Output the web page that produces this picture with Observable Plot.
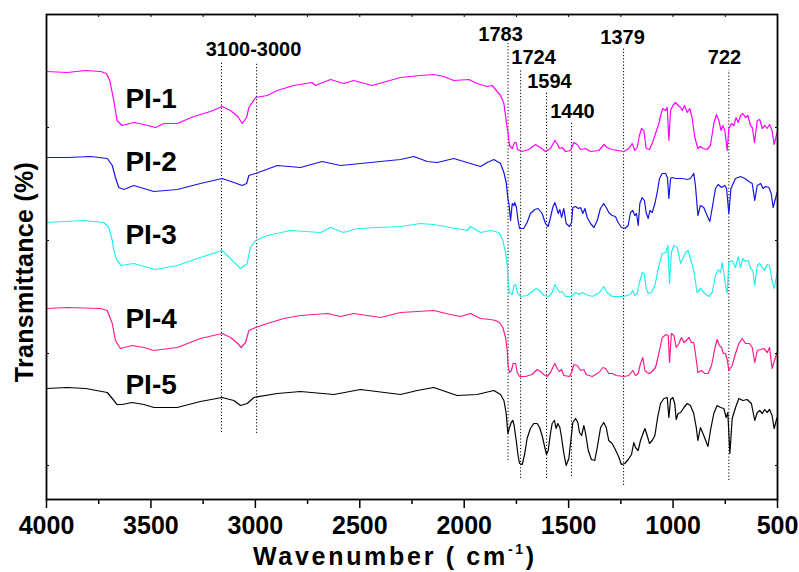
<!DOCTYPE html>
<html><head><meta charset="utf-8">
<script src="https://cdn.jsdelivr.net/npm/d3@7"></script>
<script src="https://cdn.jsdelivr.net/npm/@observablehq/plot@0.6"></script>
<style>html,body{margin:0;padding:0;background:#fff;}</style>
</head><body><div id="chart"></div>
<script>
// Transmittance in arbitrary units (offset traces), wavenumber in cm^-1
const seriesNames = ["PI-1","PI-2","PI-3","PI-4","PI-5"];
const seriesColors = ["#ff00ff","#1414e6","#22eeee","#ff1a8c","#000000"];

const pi1 = [[4000,427],[3901,426],[3813,428],[3741,427],[3713,425],[3697,418],[3678,398],[3662,378],[3638,373],[3582,376],[3534,374],[3478,371],[3438,375],[3374,375],[3295,382],[3215,387],[3159,392],[3119,388],[3084,382],[3063,375],[3042,381],[3031,391],[2999,401],[2943,403],[2895,408],[2816,413],[2728,416],[2712,413],[2640,419],[2577,415],[2529,418],[2441,413],[2305,421],[2209,423],[2146,424],[2098,422],[2050,418],[1978,419],[1938,415],[1890,412],[1866,413],[1850,409],[1826,403],[1810,395],[1798,376],[1790,365],[1783,353],[1770,350],[1759,356],[1751,356],[1745,349],[1723,347],[1691,349],[1659,354],[1635,351],[1611,347],[1587,350],[1566,358],[1555,355],[1544,350],[1531,351],[1515,347],[1491,348],[1475,356],[1459,354],[1443,349],[1419,350],[1395,347],[1355,348],[1331,354],[1316,351],[1292,349],[1236,347],[1212,350],[1196,355],[1183,348],[1172,351],[1161,363],[1151,370],[1140,368],[1129,350],[1113,349],[1100,355],[1068,375],[1057,385],[1049,390],[1036,388],[1028,391],[1020,358],[1012,388],[1001,393],[988,396],[976,393],[964,391],[956,388],[945,393],[932,386],[920,390],[909,381],[896,361],[881,350],[869,352],[856,350],[837,349],[821,353],[805,375],[792,384],[781,378],[770,368],[762,373],[752,368],[741,348],[733,370],[720,375],[709,373],[698,381],[688,376],[677,383],[666,385],[653,381],[642,383],[629,373],[621,371],[610,356],[597,378],[585,379],[573,370],[561,373],[550,370],[538,374],[526,368],[516,354],[502,366]];

const pi2 = [[4000,341],[3901,341],[3789,342],[3709,340],[3685,333],[3670,321],[3654,311],[3630,309],[3582,313],[3486,307],[3374,309],[3263,315],[3159,320],[3103,316],[3063,313],[3042,315],[3031,323],[2999,325],[2895,333],[2784,331],[2680,337],[2592,333],[2449,336],[2305,339],[2241,342],[2177,337],[2129,336],[2050,340],[1970,335],[1922,332],[1890,336],[1858,339],[1850,338],[1826,335],[1810,326],[1799,316],[1791,300],[1786,295],[1778,278],[1770,295],[1762,293],[1758,296],[1750,291],[1742,278],[1735,270],[1715,270],[1699,276],[1683,285],[1662,289],[1646,290],[1627,285],[1611,275],[1598,272],[1587,281],[1576,291],[1566,296],[1558,291],[1550,285],[1542,289],[1534,281],[1523,290],[1512,275],[1496,272],[1486,276],[1480,291],[1467,292],[1454,290],[1443,291],[1432,285],[1422,290],[1411,281],[1395,275],[1379,271],[1363,278],[1348,290],[1332,295],[1320,291],[1308,286],[1292,283],[1276,282],[1263,276],[1247,271],[1231,270],[1215,273],[1204,286],[1193,288],[1183,283],[1175,285],[1167,273],[1159,295],[1148,301],[1137,298],[1129,286],[1119,280],[1111,288],[1100,286],[1087,295],[1076,306],[1065,320],[1052,325],[1036,325],[1027,321],[1020,300],[1012,320],[1004,321],[988,320],[956,320],[932,319],[917,320],[901,325],[893,313],[881,283],[869,293],[853,291],[837,283],[824,277],[813,290],[797,310],[784,314],[768,311],[752,313],[744,310],[733,285],[723,310],[701,320],[677,322],[656,320],[637,317],[621,315],[609,298],[597,313],[581,315],[569,310],[557,312],[541,311],[530,305],[521,291],[502,306]];

const pi3 = [[4000,276],[3821,278],[3726,276],[3702,271],[3685,258],[3678,248],[3662,238],[3642,233],[3582,235],[3483,229],[3374,233],[3263,241],[3159,248],[3071,230],[3039,235],[3027,248],[3023,251],[2999,258],[2943,263],[2832,268],[2688,266],[2640,271],[2577,266],[2512,270],[2305,272],[2209,275],[2146,274],[2066,271],[1986,268],[1970,272],[1922,266],[1874,268],[1850,267],[1831,265],[1815,258],[1802,246],[1794,233],[1790,216],[1783,206],[1770,204],[1762,213],[1754,214],[1746,206],[1730,202],[1699,203],[1675,207],[1655,210],[1639,208],[1619,203],[1595,202],[1579,206],[1566,214],[1555,210],[1542,206],[1531,207],[1515,202],[1486,202],[1467,206],[1451,204],[1435,206],[1416,204],[1387,202],[1352,206],[1332,212],[1316,206],[1292,202],[1236,202],[1204,204],[1193,208],[1183,203],[1172,205],[1161,216],[1148,226],[1138,225],[1129,211],[1119,205],[1103,206],[1087,213],[1068,233],[1052,245],[1033,246],[1025,253],[1017,215],[1008,246],[996,253],[980,251],[964,235],[953,240],[940,246],[928,248],[917,240],[901,228],[885,206],[869,210],[853,206],[829,202],[813,206],[797,223],[784,229],[773,226],[765,236],[755,223],[749,213],[741,205],[733,236],[717,238],[701,231],[688,242],[677,231],[666,240],[653,237],[640,238],[629,230],[618,228],[609,213],[597,233],[586,235],[573,231],[561,228],[550,234],[538,233],[526,218],[516,210],[502,225]];

const pi4 = [[4000,190],[3901,191],[3741,190],[3709,188],[3685,175],[3670,158],[3646,150],[3590,153],[3534,151],[3486,148],[3374,151],[3263,160],[3159,165],[3119,161],[3084,155],[3068,151],[3047,156],[3031,168],[2999,171],[2943,175],[2864,180],[2784,183],[2656,185],[2592,182],[2529,185],[2401,181],[2305,186],[2225,187],[2146,188],[2066,184],[2018,182],[1970,185],[1922,180],[1874,179],[1850,178],[1831,176],[1815,171],[1802,161],[1794,148],[1790,133],[1783,126],[1774,128],[1766,135],[1754,135],[1746,126],[1735,122],[1707,122],[1675,124],[1651,129],[1635,127],[1619,124],[1603,122],[1587,126],[1576,131],[1566,135],[1555,130],[1544,127],[1534,129],[1523,123],[1496,122],[1486,126],[1475,134],[1459,133],[1443,128],[1427,129],[1416,124],[1387,122],[1355,126],[1336,131],[1323,130],[1308,125],[1292,125],[1272,123],[1236,122],[1212,123],[1193,128],[1180,123],[1167,125],[1156,135],[1145,141],[1135,128],[1124,126],[1113,125],[1100,127],[1084,131],[1068,145],[1052,161],[1033,164],[1023,163],[1017,136],[1008,165],[996,163],[985,151],[972,155],[960,161],[948,156],[937,158],[924,161],[912,156],[901,156],[893,145],[881,126],[864,128],[848,125],[832,125],[816,133],[800,150],[789,159],[778,153],[768,151],[759,145],[749,145],[741,139],[733,128],[717,133],[701,145],[685,155],[669,160],[653,155],[634,155],[621,151],[609,136],[597,148],[581,149],[565,150],[549,146],[538,151],[526,130],[513,139],[502,146]];

const pi5 = [[4000,110],[3901,111],[3812,110],[3709,106],[3685,100],[3662,94],[3638,94],[3590,96],[3534,94],[3486,91],[3374,91],[3263,97],[3159,101],[3103,98],[3071,93],[3039,95],[3007,101],[2895,105],[2784,107],[2624,104],[2497,109],[2305,104],[2225,108],[2146,111],[2034,103],[1938,104],[1858,108],[1850,107],[1826,104],[1810,98],[1799,85],[1791,65],[1783,71],[1775,76],[1767,78],[1761,73],[1751,58],[1742,43],[1735,35],[1722,34],[1710,45],[1699,60],[1683,70],[1667,75],[1651,75],[1639,71],[1627,63],[1614,51],[1606,44],[1598,48],[1587,65],[1579,75],[1568,78],[1560,70],[1552,75],[1542,71],[1534,61],[1523,45],[1512,33],[1499,40],[1488,61],[1480,76],[1467,80],[1456,76],[1448,66],[1438,63],[1427,73],[1419,65],[1406,48],[1391,39],[1375,38],[1363,51],[1347,71],[1332,76],[1320,71],[1308,58],[1292,55],[1279,50],[1263,43],[1247,34],[1231,35],[1215,39],[1199,44],[1188,56],[1180,51],[1167,48],[1156,58],[1135,70],[1124,63],[1113,55],[1100,58],[1087,63],[1074,81],[1060,95],[1044,100],[1028,101],[1020,81],[1012,99],[1001,101],[992,95],[985,79],[976,85],[964,86],[948,91],[932,95],[917,93],[901,85],[889,71],[881,58],[869,71],[853,63],[833,52],[821,68],[805,85],[789,93],[773,91],[757,90],[746,81],[738,86],[728,45],[717,80],[701,91],[685,100],[666,98],[645,99],[625,95],[609,78],[597,86],[585,88],[573,85],[561,89],[550,86],[538,89],[526,83],[516,70],[502,81]];

// Series label anchors (wavenumber, transmittance)
const seriesLabelWn = [3622, 3622, 3622, 3622, 3622];
const seriesLabelT = [391, 328, 255, 171, 105];

// Dotted marker lines: wavenumber, top, bottom
const markerWn = [3162, 2994, 1790, 1730, 1606, 1486, 1237, 733];
const markerTop = [436, 436, 455, 428, 407, 376, 450, 428];
const markerBottom = [66, 65, 38, 20, 20, 22, 13, 18];

// Peak annotation texts and anchors
const annText = ["3100-3000", "1783", "1724", "1594", "1440", "1379", "722"];
const annWn = [3009, 1826, 1668, 1592, 1482, 1242, 754];
const annT = [443, 458, 435, 411, 381, 455, 435];

const xMajor = [4000, 3500, 3000, 2500, 2000, 1500, 1000, 500];
const xMinor = [3750, 3250, 2750, 2250, 1750, 1250, 750];
const yTicks = [33, 145, 258, 371];

const allSeries = [pi1, pi2, pi3, pi4, pi5];
const rows = allSeries.flatMap((s, i) => s.map(([wn, t]) => ({series: seriesNames[i], wn, t})));
const labels = seriesNames.map((n, i) => ({name: n, wn: seriesLabelWn[i], t: seriesLabelT[i]}));
const markers = markerWn.map((w, i) => ({wn: w, top: markerTop[i], bottom: markerBottom[i]}));
const anns = annText.map((s, i) => ({text: s, wn: annWn[i], t: annT[i]}));

const FONT = "Liberation Sans, Arial, Helvetica, sans-serif";
const blank = () => "";

const chart = Plot.plot({
  width: 799, height: 572,
  marginLeft: 46, marginRight: 22, marginTop: 14, marginBottom: 73,
  style: {fontFamily: FONT, background: "#fff", color: "#000"},
  x: {domain: [4000, 500]},
  y: {domain: [-1, 484]},
  color: {domain: seriesNames, range: seriesColors},
  marks: [
    Plot.ruleX(markers, {x: "wn", y1: "bottom", y2: "top", stroke: "#000", strokeWidth: 1, strokeDasharray: "1.2,2"}),
    Plot.line(rows, {x: "wn", y: "t", z: "series", stroke: "series", strokeWidth: 1.2}),
    Plot.text(labels, {x: "wn", y: "t", text: "name", textAnchor: "start", lineAnchor: "bottom", fontSize: 28, fontWeight: "bold", fill: "#000"}),
    Plot.text(anns, {x: "wn", y: "t", text: "text", textAnchor: "middle", lineAnchor: "bottom", fontSize: 20, fontWeight: "bold", fill: "#000"}),
    Plot.axisX({anchor: "bottom", ticks: xMajor, tickSize: 9, tickPadding: 8, tickFormat: d => String(d), fontSize: 25, fontWeight: "bold", label: null, strokeWidth: 1.5}),
    Plot.axisX({anchor: "bottom", ticks: xMinor, tickSize: 5, tickFormat: blank, label: null, strokeWidth: 1.5}),
    Plot.axisX({anchor: "top", ticks: xMajor.concat(xMinor), tickSize: -2, tickFormat: blank, label: null}),
    Plot.axisY({anchor: "left", ticks: yTicks, tickSize: -3, tickFormat: blank, label: null}),
    Plot.axisY({anchor: "right", ticks: yTicks, tickSize: -3, tickFormat: blank, label: null}),
    Plot.frame({stroke: "#000", strokeWidth: 1.8})
  ]
});

const svg = d3.select(chart);
svg.selectAll("g[aria-label='x-axis tick-label'] text").attr("letter-spacing", "0.5px");
const xt = svg.append("text")
  .attr("x", 253).attr("y", 565)
  .attr("text-anchor", "start")
  .attr("font-family", FONT).attr("font-size", 25).attr("font-weight", "bold")
  .attr("letter-spacing", "2.7px").attr("fill", "#000");
xt.append("tspan").text("Wavenumber ( cm");
xt.append("tspan").attr("font-size", 14).attr("dy", -11).text("-1");
xt.append("tspan").attr("dy", 11).text(")");
svg.append("text")
  .attr("transform", "translate(33,272) rotate(-90)")
  .attr("text-anchor", "middle")
  .attr("font-family", FONT).attr("font-size", 25).attr("font-weight", "bold")
  .attr("letter-spacing", "0.3px").attr("fill", "#000")
  .text("Transmittance (%)");

document.getElementById("chart").appendChild(chart);
</script>
</body></html>
